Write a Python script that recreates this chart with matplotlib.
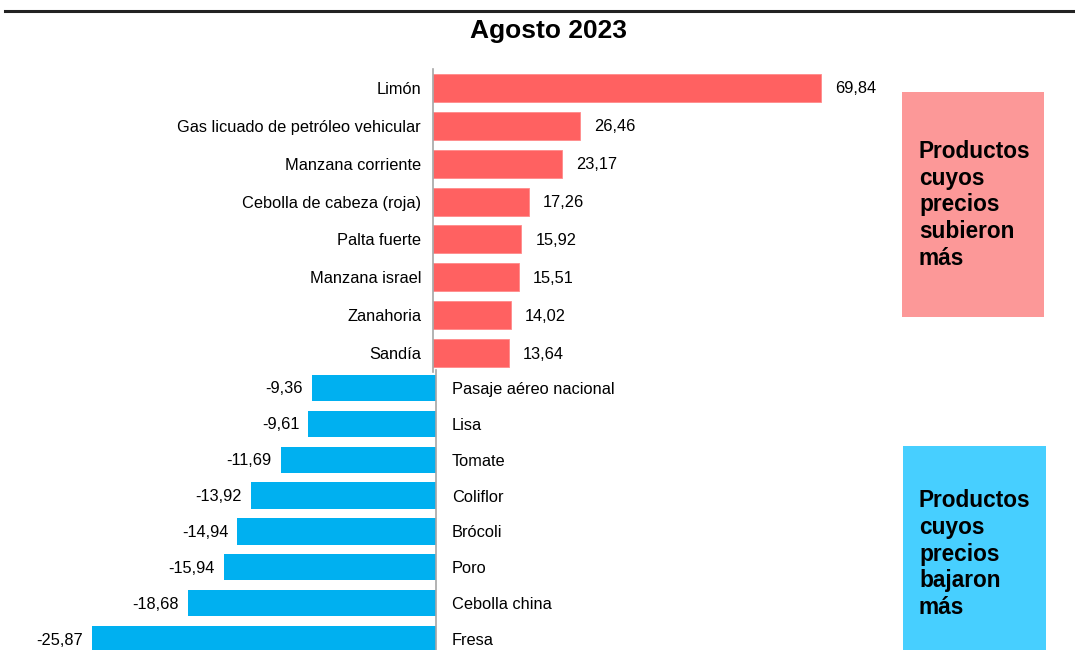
import matplotlib
matplotlib.use("Agg")
import matplotlib.pyplot as plt
from matplotlib.lines import Line2D
from matplotlib.patches import Rectangle

plt.rcParams['font.family'] = ['Liberation Sans', 'DejaVu Sans']

title = "Agosto 2023"
up_labels = ["Limón", "Gas licuado de petróleo vehicular", "Manzana corriente",
             "Cebolla de cabeza (roja)", "Palta fuerte", "Manzana israel",
             "Zanahoria", "Sandía"]
up_values = [69.84, 26.46, 23.17, 17.26, 15.92, 15.51, 14.02, 13.64]
down_labels = ["Pasaje aéreo nacional", "Lisa", "Tomate", "Coliflor", "Brócoli",
               "Poro", "Cebolla china", "Fresa"]
down_values = [-9.36, -9.61, -11.69, -13.92, -14.94, -15.94, -18.68, -25.87]
up_box_text = "Productos\ncuyos\nprecios\nsubieron\nmás"
down_box_text = "Productos\ncuyos\nprecios\nbajaron\nmás"

RED = "#FF6161"
BLUE = "#00B0F0"
PINK_BOX = "#FC9898"
BLUE_BOX = "#47CFFF"
AXIS_GRAY = "#A6A6A6"

W, H = 1075, 650
fig = plt.figure(figsize=(W / 100, H / 100), dpi=100)

def rect(x0, y0, x1, y1):
    return [x0 / W, 1 - y1 / H, (x1 - x0) / W, (y1 - y0) / H]

def fmt(v):
    return f"{v:.2f}".replace(".", ",")

FS = 11.8

# top positive chart
sp_up = 37.86
ax1 = fig.add_axes(rect(433, 88 - sp_up / 2, 433 + 80 * 5.556, 353 + sp_up / 2))
n = len(up_values)
ax1.barh(range(n), up_values, height=0.74, color=RED, edgecolor="#FF8A8A", linewidth=0.6)
ax1.set_ylim(n - 0.5, -0.5)
ax1.set_xlim(0, 80)
ax1.set_yticks(range(n))
ax1.set_yticklabels(up_labels, fontsize=FS)
ax1.tick_params(axis='y', length=0, pad=8.6)
ax1.set_xticks([])
for s in ["top", "right", "bottom"]:
    ax1.spines[s].set_visible(False)
ax1.spines["left"].set_color(AXIS_GRAY)
ax1.spines["left"].set_linewidth(1.2)
ax1.patch.set_visible(False)
for i, v in enumerate(up_values):
    ax1.annotate(fmt(v), (v, i), xytext=(14, -1), textcoords="offset pixels",
                 ha="left", va="center", fontsize=FS)

# bottom negative chart
sp_dn = 35.86
ax2 = fig.add_axes(rect(436 - 30 * 13.30, 388 - sp_dn / 2, 436, 639 + sp_dn / 2))
m = len(down_values)
ax2.barh(range(m), down_values, height=0.73, color=BLUE, linewidth=0)
ax2.set_ylim(m - 0.5, -0.5)
ax2.set_xlim(-30, 0)
ax2.yaxis.tick_right()
ax2.set_yticks(range(m))
ax2.set_yticklabels(down_labels, fontsize=FS)
ax2.tick_params(axis='y', length=0, pad=11.5)
ax2.set_xticks([])
for s in ["top", "left", "bottom"]:
    ax2.spines[s].set_visible(False)
ax2.spines["right"].set_color(AXIS_GRAY)
ax2.spines["right"].set_linewidth(1.2)
ax2.patch.set_visible(False)
for i, v in enumerate(down_values):
    ax2.annotate(fmt(v), (v, i), xytext=(-9, -1), textcoords="offset pixels",
                 ha="right", va="center", fontsize=FS)

# top rule
fig.add_artist(Line2D([5 / W, 1], [1 - 11 / H, 1 - 11 / H], color="#222222", linewidth=2.2))

# title
fig.text(549 / W, 1 - 31 / H, title, ha="center", va="center", fontsize=19,
         fontweight="bold")

# side boxes
fig.add_artist(Rectangle((902 / W, 1 - 317 / H), (1044 - 902) / W, (317 - 92) / H,
                         transform=fig.transFigure, facecolor=PINK_BOX, edgecolor="none"))
fig.add_artist(Rectangle((903 / W, 1 - 652 / H), (1046 - 903) / W, (652 - 446) / H,
                         transform=fig.transFigure, facecolor=BLUE_BOX, edgecolor="none"))
fig.text(919 / W, 1 - 205 / H, up_box_text, ha="left", va="center", fontsize=16.3,
         fontweight="bold", linespacing=1.22)
fig.text(919 / W, 1 - 554 / H, down_box_text, ha="left", va="center", fontsize=16.3,
         fontweight="bold", linespacing=1.22)

fig.savefig("out.png", dpi=100)
